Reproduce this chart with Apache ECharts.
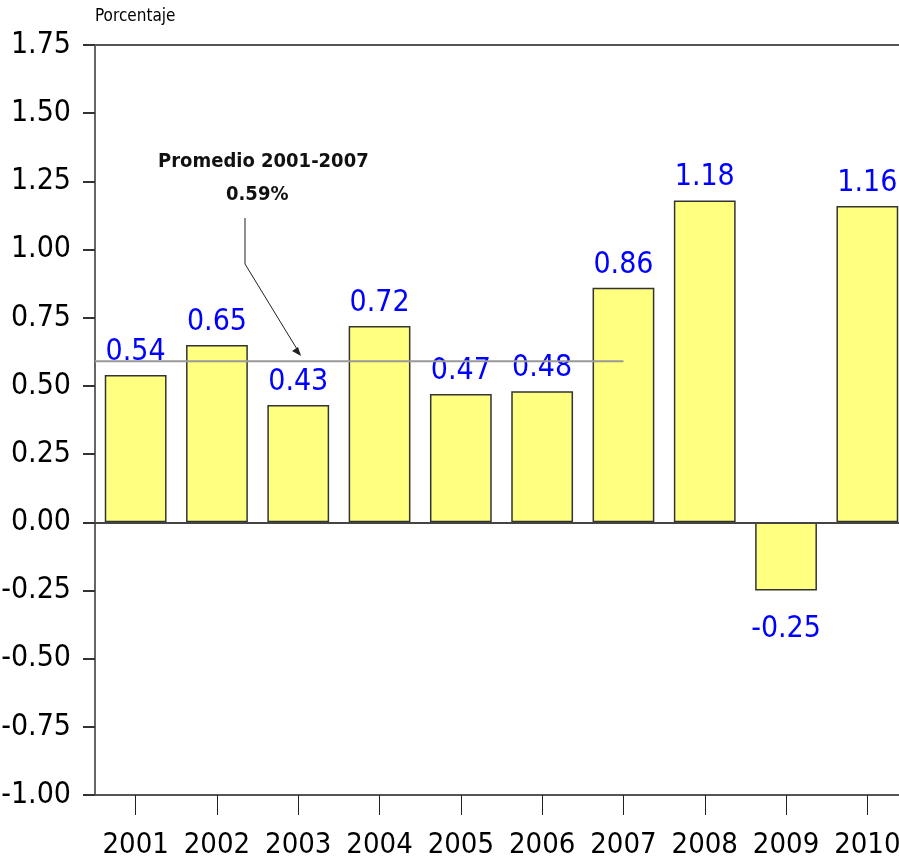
<!DOCTYPE html>
<html>
<head>
<meta charset="utf-8">
<script src="https://cdn.jsdelivr.net/npm/echarts@6/dist/echarts.min.js"></script>
<style>
  html, body { margin: 0; padding: 0; background: #fff; }
  #chart { width: 899px; height: 864px; }
</style>
</head>
<body>
<div id="chart"></div>
<script>
const years = ["2001", "2002", "2003", "2004", "2005", "2006", "2007", "2008", "2009", "2010"];
const values = [0.54, 0.65, 0.43, 0.72, 0.47, 0.48, 0.86, 1.18, -0.25, 1.16];
const averageValue = 0.59;
const averageSpan = [-0.5, 6]; // from left edge of plot to 2007
const yTicks = { min: -1, max: 1.75, interval: 0.25 };

const FONT = "'Liberation Sans Narrow', 'DejaVu Sans Condensed', 'Liberation Sans', sans-serif";

const chart = echarts.init(document.getElementById("chart"));

chart.setOption({
  backgroundColor: "#fff",
  animation: false,
  grid: {
    left: 95,
    right: -9,
    top: 45,
    bottom: 69,
    outerBoundsMode: "none",
    containLabel: false,
    show: true,
    borderColor: "#555",
    borderWidth: 2,
    backgroundColor: "transparent",
  },
  xAxis: [
    {
      type: "category",
      data: years,
      boundaryGap: true,
      axisLine: { onZero: false, lineStyle: { color: "#555", width: 2 } },
      axisTick: { show: true, alignWithLabel: true, length: 20, lineStyle: { color: "#222", width: 1 } },
      axisLabel: { interval: 0, margin: 36, fontFamily: FONT, fontSize: 29, color: "#000" },
    },
    {
      type: "value",
      min: -0.5,
      max: 9.5,
      show: false,
    },
  ],
  yAxis: {
    type: "value",
    min: yTicks.min,
    max: yTicks.max,
    interval: yTicks.interval,
    name: "Porcentaje",
    nameLocation: "end",
    nameGap: 20,
    nameTextStyle: { align: "left", fontFamily: FONT, fontSize: 17, color: "#000" },
    axisLine: { show: true, onZero: false, lineStyle: { color: "#666", width: 2 } },
    axisTick: { show: true, length: 12, lineStyle: { color: "#333", width: 2 } },
    splitLine: { show: false },
    axisLabel: {
      margin: 24,
      fontFamily: FONT,
      fontSize: 30,
      color: "#000",
      formatter: (v) => v.toFixed(2),
    },
  },
  series: [
    {
      type: "bar",
      data: values.map((v) =>
        v < 0 ? { value: v, label: { position: "bottom", distance: 24 } } : v
      ),
      barCategoryGap: "24%",
      itemStyle: { color: "#ffff80", borderColor: "#333", borderWidth: 1.5 },
      label: {
        show: true,
        position: "top",
        distance: 8,
        fontFamily: FONT,
        fontSize: 30,
        color: "#0000ff",
        formatter: (p) => p.value.toFixed(2),
      },
      markLine: {
        silent: true,
        symbol: "none",
        label: { show: false },
        lineStyle: { color: "#444", width: 2, type: "solid" },
        data: [{ yAxis: 0 }],
      },
    },
    {
      type: "line",
      xAxisIndex: 1,
      data: [[averageSpan[0], averageValue], [averageSpan[1], averageValue]],
      symbol: "none",
      silent: true,
      lineStyle: { color: "#999", width: 2 },
      z: 5,
    },
  ],
  graphic: [
    {
      type: "text",
      left: 158,
      top: 152,
      style: { text: "Promedio 2001-2007", font: "bold 20px " + FONT, fill: "#111" },
    },
    {
      type: "text",
      left: 226,
      top: 185,
      style: { text: "0.59%", font: "bold 20px " + FONT, fill: "#111" },
    },
    {
      type: "polyline",
      shape: { points: [[245, 218], [245, 264], [300, 354]] },
      style: { stroke: "#222", lineWidth: 1, fill: null },
    },
    {
      type: "polygon",
      shape: { points: [[301, 356], [292, 351], [298, 347]] },
      style: { fill: "#222" },
    },
  ],
});
</script>
</body>
</html>
